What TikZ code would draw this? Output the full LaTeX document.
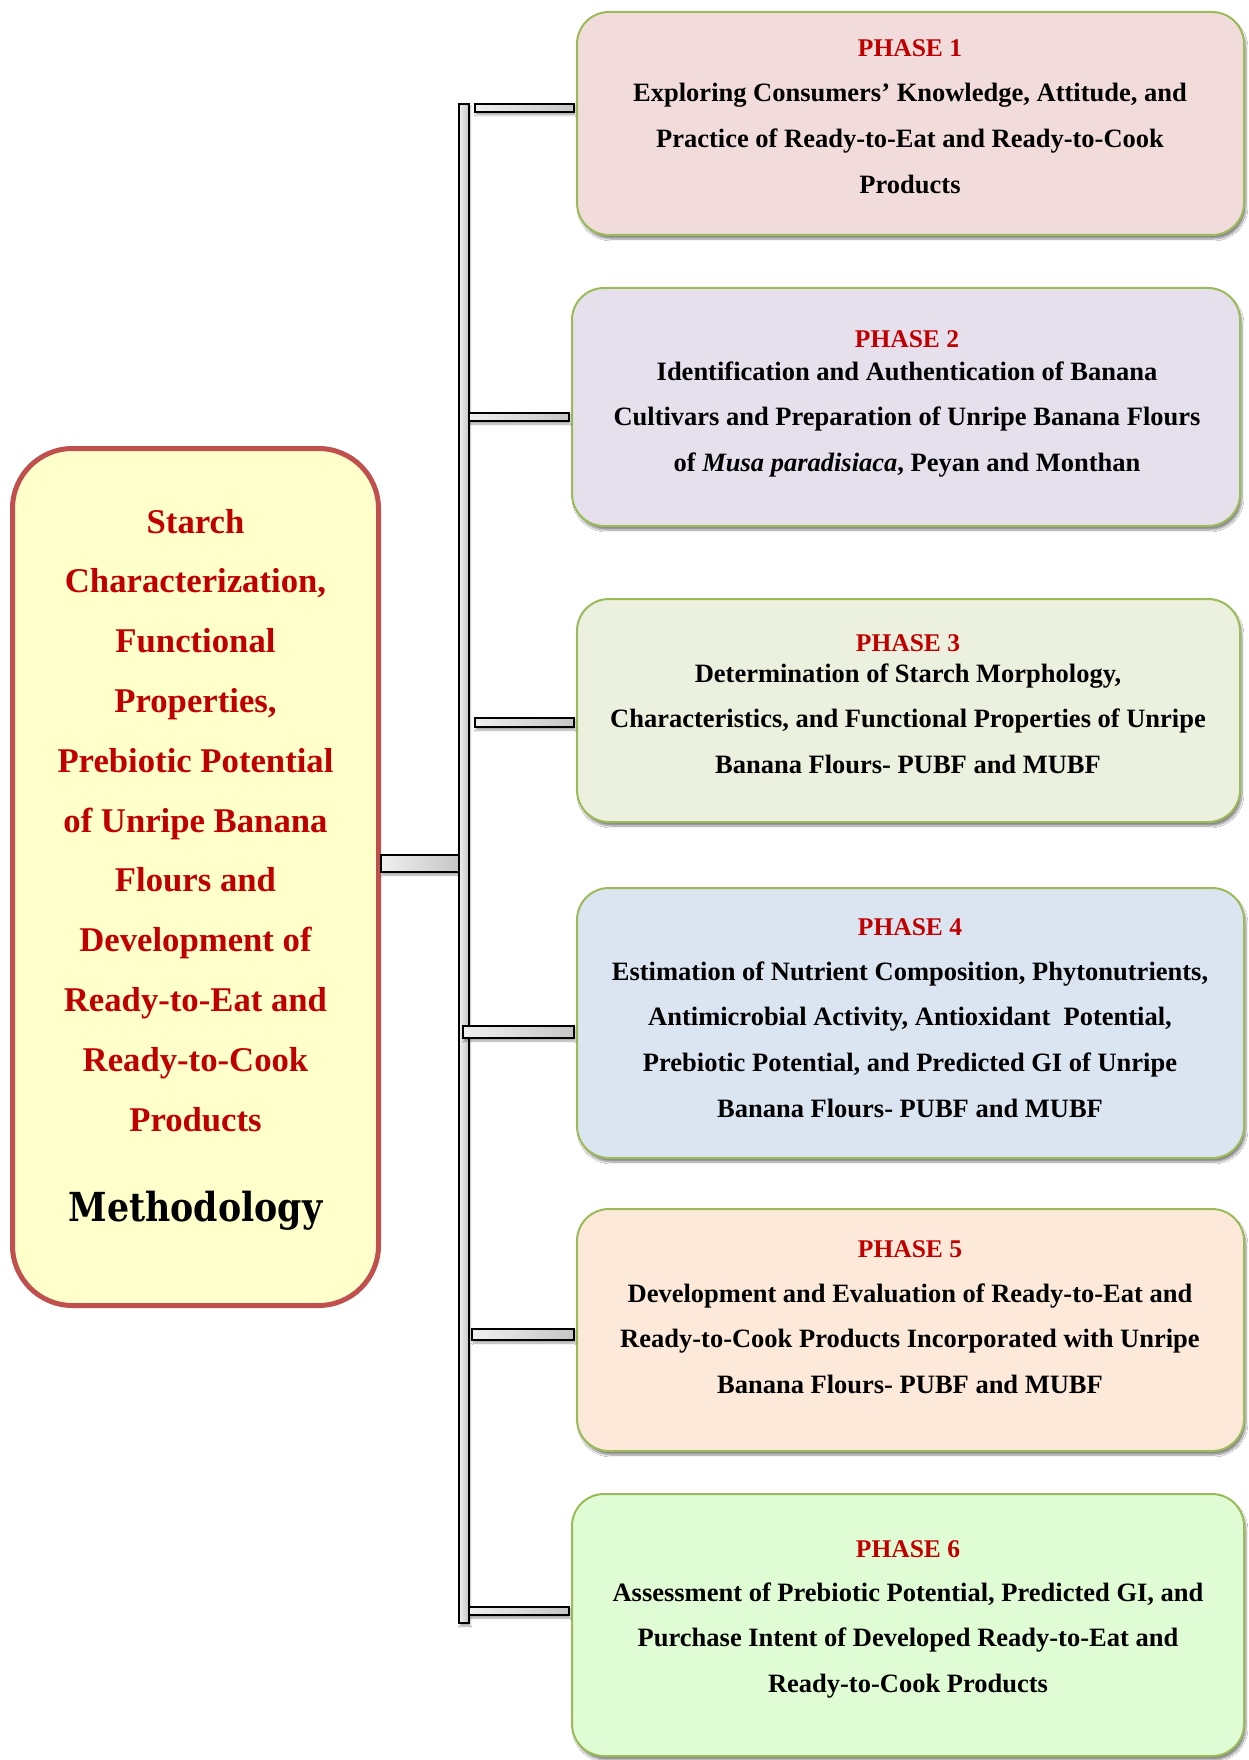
\documentclass[tikz,border=0pt]{standalone}
\usepackage{fontspec}
\setmainfont{Liberation Serif}
\newfontfamily\headfont{DejaVu Serif}[FakeStretch=0.87]
\usetikzlibrary{shadows.blur,calc}

\definecolor{titlered}{HTML}{C00000}
\definecolor{leftfill}{HTML}{FFFFCC}
\definecolor{leftdraw}{HTML}{C0504D}
\definecolor{phasedraw}{HTML}{9BBB59}
\definecolor{fillA}{HTML}{F2DCDB}
\definecolor{fillB}{HTML}{E5E0EC}
\definecolor{fillC}{HTML}{EBF1DE}
\definecolor{fillD}{HTML}{DBE5F1}
\definecolor{fillE}{HTML}{FDE9D9}
\definecolor{fillF}{HTML}{E0FCD4}

\tikzset{
  phasebox/.style={draw=phasedraw, line width=2pt, rounded corners=32pt, inner sep=0pt,
    blur shadow={shadow xshift=2pt, shadow yshift=-4pt, shadow blur steps=8, shadow opacity=45}},
  themebox/.style={draw=leftdraw, fill=leftfill, line width=5pt, rounded corners=60pt, inner sep=0pt},
  spinebar/.style={draw=black, line width=1.2pt, left color=gray!12, right color=gray!45, inner sep=0pt},
  hbar/.style={draw=black, line width=1.2pt, left color=gray!12, right color=gray!45,
    blur shadow={shadow xshift=1pt, shadow yshift=-3pt, shadow blur steps=4, shadow opacity=35}},
  phasehead/.style={anchor=base, text=titlered, font=\fontsize{25.5}{30}\selectfont\bfseries},
  % multi-line texts are placed by the baseline of their last line
  phasetext/.style={anchor=base, align=center, font=\fontsize{26.5}{45.7}\selectfont\bfseries},
  themetext/.style={anchor=base, align=center, text=titlered, font=\fontsize{34.7}{59.8}\selectfont\bfseries},
}

\begin{document}
\begin{tikzpicture}[x=1pt, y=-1pt]
  \fill[white] (0,0) rectangle (1249,1760);
  \useasboundingbox (0,0) rectangle (1249,1760);

  % central theme box
  \node[themebox, minimum width=366pt, minimum height=857pt] (theme) at (195.5,877) {};
  \node[themetext] (themet) at (195.5,1131) {Starch\\Characterization,\\Functional\\Properties,\\Prebiotic Potential\\of Unripe Banana\\Flours and\\Development of\\Ready-to-Eat and\\Ready-to-Cook\\Products};
  \node[anchor=base, font=\headfont\fontsize{40}{48}\selectfont\bfseries] (meth) at (195.5,1221) {Methodology};

  % phase boxes
  \node[phasebox, fill=fillA, minimum width=667pt, minimum height=223pt] (p1) at (910.5,123.5) {};
  \node[phasebox, fill=fillB, minimum width=668pt, minimum height=238pt] (p2) at (906,407) {};
  \node[phasebox, fill=fillC, minimum width=663pt, minimum height=223pt] (p3) at (908.5,710.5) {};
  \node[phasebox, fill=fillD, minimum width=667pt, minimum height=270pt] (p4) at (910.5,1023) {};
  \node[phasebox, fill=fillE, minimum width=667pt, minimum height=242pt] (p5) at (910.5,1330) {};
  \node[phasebox, fill=fillF, minimum width=672pt, minimum height=262pt] (p6) at (908,1625) {};

  % phase titles and descriptions
  \node[phasehead] (p1h) at (910,57) {PHASE 1};
  \node[phasetext] (p1t) at (910,193.4) {Exploring Consumers’ Knowledge, Attitude, and\\Practice of Ready-to-Eat and Ready-to-Cook\\Products};
  \node[phasehead] (p2h) at (907,347) {PHASE 2};
  \node[phasetext] (p2t) at (907,471.4) {Identification and Authentication of Banana\\Cultivars and Preparation of Unripe Banana Flours\\of \textit{Musa paradisiaca}, Peyan and Monthan};
  \node[phasehead] (p3h) at (908,651) {PHASE 3};
  \node[phasetext] (p3t) at (908,773.4) {Determination of Starch Morphology,\\Characteristics, and Functional Properties of Unripe\\Banana Flours- PUBF and MUBF};
  \node[phasehead] (p4h) at (910,935) {PHASE 4};
  \node[phasetext] (p4t) at (910,1117.1) {Estimation of Nutrient Composition, Phytonutrients,\\Antimicrobial Activity, Antioxidant\ \ Potential,\\Prebiotic Potential, and Predicted GI of Unripe\\Banana Flours- PUBF and MUBF};
  \node[phasehead] (p5h) at (910,1257) {PHASE 5};
  \node[phasetext] (p5t) at (910,1393.4) {Development and Evaluation of Ready-to-Eat and\\Ready-to-Cook Products Incorporated with Unripe\\Banana Flours- PUBF and MUBF};
  \node[phasehead] (p6h) at (908,1557) {PHASE 6};
  \node[phasetext] (p6t) at (908,1692.4) {Assessment of Prebiotic Potential, Predicted GI, and\\Purchase Intent of Developed Ready-to-Eat and\\Ready-to-Cook Products};

  % connector from the theme box to the spine
  \path[hbar] (theme.east |- 0,855) rectangle (459,872);
  \node[spinebar, minimum width=10pt, minimum height=1519pt,
    blur shadow={shadow xshift=1pt, shadow yshift=-3pt, shadow blur steps=4, shadow opacity=35}] (spine) at (464,863.5) {};

  % branches from the spine to each phase
  \foreach \b/\ya/\yb/\dx in {p1/104/112/5.4, p2/413/421/-0.6, p3/718/727/5.4, p4/1026/1038/-6.6, p5/1329/1340/2.4, p6/1607/1615/-0.6}{
    \path[hbar] ($(spine.east |- 0,\ya)+(\dx,0)$) rectangle ($(\b.west |- 0,\yb)+(-2,0)$);
  }
\end{tikzpicture}
\end{document}
